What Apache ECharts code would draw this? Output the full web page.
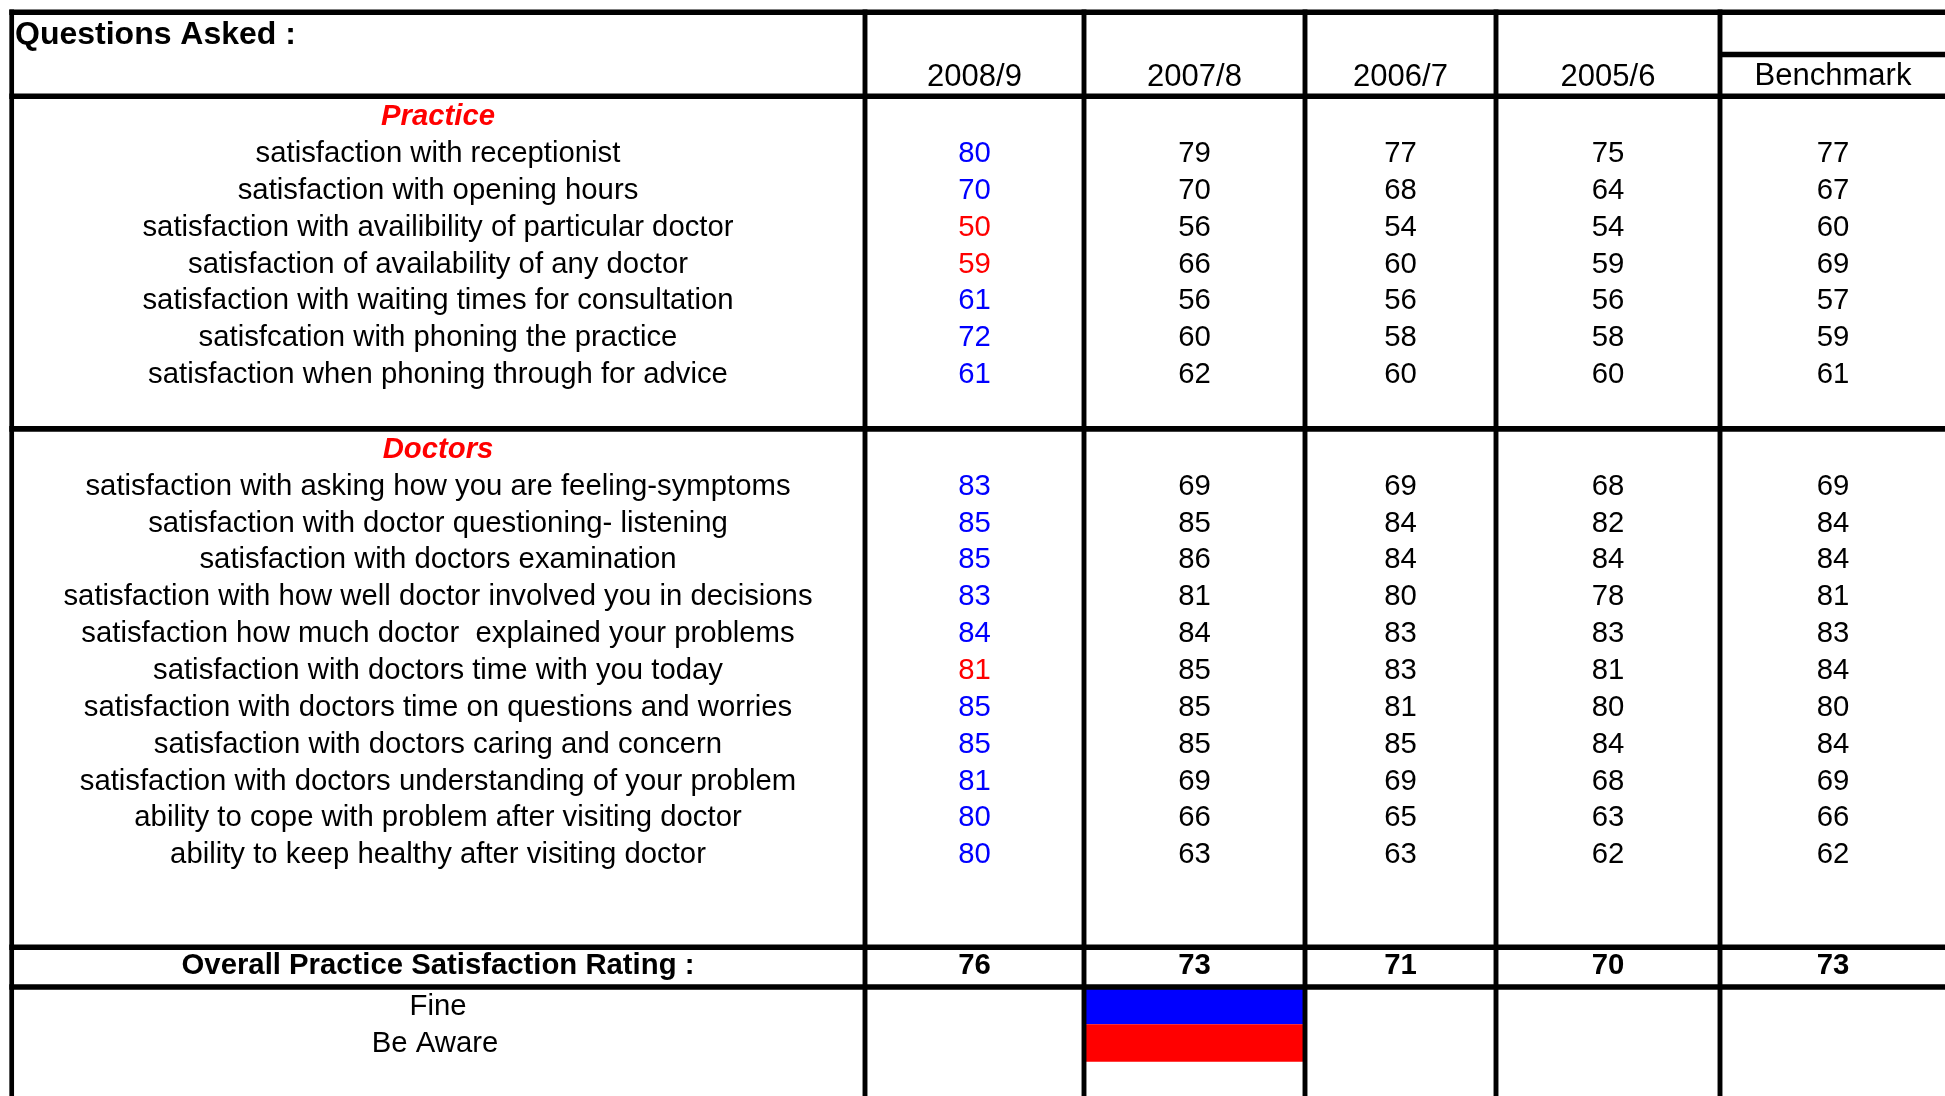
<!DOCTYPE html>
<html><head><meta charset="utf-8">
<script src="https://cdn.jsdelivr.net/npm/echarts@6/dist/echarts.min.js"></script>
<style>html,body{margin:0;padding:0;background:#fff;overflow:hidden}#c{width:1945px;height:1096px}</style>
</head><body><div id="c"></div>
<script>
// ---------- data ----------
const tableTitle = 'Questions Asked :';
const periods = ['2008/9', '2007/8', '2006/7', '2005/6', 'Benchmark'];
const practiceTitle = 'Practice';
const practiceQuestions = [
  'satisfaction with receptionist',
  'satisfaction with opening hours',
  'satisfaction with availibility of particular doctor',
  'satisfaction of availability of any doctor',
  'satisfaction with waiting times for consultation',
  'satisfcation with phoning the practice',
  'satisfaction when phoning through for advice'
];
const practice2008 = [80, 70, 50, 59, 61, 72, 61];
const practice2007 = [79, 70, 56, 66, 56, 60, 62];
const practice2006 = [77, 68, 54, 60, 56, 58, 60];
const practice2005 = [75, 64, 54, 59, 56, 58, 60];
const practiceBenchmark = [77, 67, 60, 69, 57, 59, 61];

const doctorsTitle = 'Doctors';
const doctorQuestions = [
  'satisfaction with asking how you are feeling-symptoms',
  'satisfaction with doctor questioning- listening',
  'satisfaction with doctors examination',
  'satisfaction with how well doctor involved you in decisions',
  'satisfaction how much doctor  explained your problems',
  'satisfaction with doctors time with you today',
  'satisfaction with doctors time on questions and worries',
  'satisfaction with doctors caring and concern',
  'satisfaction with doctors understanding of your problem',
  'ability to cope with problem after visiting doctor',
  'ability to keep healthy after visiting doctor'
];
const doctors2008 = [83, 85, 85, 83, 84, 81, 85, 85, 81, 80, 80];
const doctors2007 = [69, 85, 86, 81, 84, 85, 85, 85, 69, 66, 63];
const doctors2006 = [69, 84, 84, 80, 83, 83, 81, 85, 69, 65, 63];
const doctors2005 = [68, 82, 84, 78, 83, 81, 80, 84, 68, 63, 62];
const doctorsBenchmark = [69, 84, 84, 81, 83, 84, 80, 84, 69, 66, 62];

const overallLabel = 'Overall Practice Satisfaction Rating :';
const overallValues = [76, 73, 71, 70, 73];

const legendLabels = ['Fine', 'Be Aware'];

// ---------- layout / style ----------
const W = 1945, H = 1096;
const ROW0 = 152.6, PITCH = 36.85;           // row index -> pixel mapping of the y axis
const TEXT_DY = 1.3;                          // visual baseline correction for text
const yMin = -ROW0 / PITCH, yMax = (H - ROW0) / PITCH;
const px2row = p => (p - ROW0) / PITCH;
const colEdges = [11.7, 865, 1084, 1305, 1496, 1720, 1946];
const colCenters = [438, 974.5, 1194.5, 1400.5, 1608, 1833];
const FAMILY = '"Liberation Sans", Arial, Helvetica, sans-serif';
const BLUE = '#0000FF', RED = '#FF0000', BLACK = '#000000';
const FS = 29.3;

// ---------- build text cells ----------
const cells = [];
function cell(col, row, text, opt) {
  opt = opt || {};
  cells.push({
    value: [colCenters[col], row],
    text: String(text),
    color: opt.color || BLACK,
    weight: opt.weight || 'normal',
    fstyle: opt.fstyle || 'normal',
    size: opt.size || FS,
    align: opt.align || 'center',
    dx: opt.dx || 0,
    dy: opt.dy != null ? opt.dy : TEXT_DY
  });
}
// header
cells.push({ value: [15, px2row(31.5)], text: tableTitle, color: BLACK, weight: 'bold', fstyle: 'normal', size: 32, align: 'left', dx: 0, dy: 3.6 });
periods.forEach((p, i) => {
  cell(i + 1, px2row(i === 4 ? 75.5 : 76), p, { size: 31 });
});
// practice section
cell(0, -1, practiceTitle, { color: RED, weight: 'bold', fstyle: 'italic' });
const practiceCols = [practice2008, practice2007, practice2006, practice2005, practiceBenchmark];
practiceQuestions.forEach((q, r) => {
  cell(0, r, q);
  practiceCols.forEach((arr, c) => {
    const color = c === 0 ? (arr[r] < practiceBenchmark[r] ? RED : BLUE) : BLACK;
    cell(c + 1, r, arr[r], { color });
  });
});
// doctors section
const DOC0 = 8.03;
cell(0, DOC0, doctorsTitle, { color: RED, weight: 'bold', fstyle: 'italic' });
const doctorCols = [doctors2008, doctors2007, doctors2006, doctors2005, doctorsBenchmark];
doctorQuestions.forEach((q, r) => {
  const row = DOC0 + 1 + r;
  cell(0, row, q);
  doctorCols.forEach((arr, c) => {
    const color = c === 0 ? (arr[r] < doctorsBenchmark[r] ? RED : BLUE) : BLACK;
    cell(c + 1, row, arr[r], { color });
  });
});
// overall row
const overallRow = px2row(965);
cell(0, overallRow, overallLabel, { weight: 'bold' });
overallValues.forEach((v, c) => cell(c + 1, overallRow, v, { weight: 'bold' }));
// legend labels
cell(0, px2row(1006), legendLabels[0]);
cell(0, px2row(1043), legendLabels[1], { dx: -3 });

// ---------- grid lines (layout) ----------
const lines = [];
const HT = 5.6, VT = 4.9;
[[12.25, 9.3, W], [96.2, 9.3, W], [54.5, 1720, W], [428.9, 9.3, W], [947.2, 9.3, W], [987, 9.3, W]]
  .forEach(l => lines.push({ value: [l[1], px2row(l[0]), l[2], px2row(l[0])], t: HT, dir: 'h' }));
colEdges.slice(0, 6).forEach((x, i) => {
  lines.push({ value: [x, px2row(9.5), x, yMax], t: i === 0 ? 4.7 : VT, dir: 'v' });
});

// legend swatches in 2007/8 column
const swatches = [
  { value: [colEdges[2], px2row(987), colEdges[3], px2row(1024.3)], color: BLUE },
  { value: [colEdges[2], px2row(1024.3), colEdges[3], px2row(1061.7)], color: RED }
];

const chart = echarts.init(document.getElementById('c'), null, { renderer: 'canvas' });
chart.setOption({
  backgroundColor: '#ffffff',
  animation: false,
  grid: { left: 0, right: 0, top: 0, bottom: 0 },
  xAxis: { type: 'value', min: 0, max: W, show: false },
  yAxis: { type: 'value', min: yMin, max: yMax, inverse: true, show: false },
  series: [
    {
      type: 'custom', z: 1, silent: true,
      data: swatches,
      renderItem: (params, api) => {
        const d = swatches[params.dataIndex];
        const a = api.coord([d.value[0], d.value[1]]);
        const b = api.coord([d.value[2], d.value[3]]);
        return { type: 'rect', shape: { x: a[0], y: a[1], width: b[0] - a[0], height: b[1] - a[1] }, style: { fill: d.color } };
      }
    },
    {
      type: 'custom', z: 2, silent: true,
      data: lines,
      renderItem: (params, api) => {
        const d = lines[params.dataIndex];
        const a = api.coord([d.value[0], d.value[1]]);
        const b = api.coord([d.value[2], d.value[3]]);
        const shape = d.dir === 'h'
          ? { x: a[0], y: a[1] - d.t / 2, width: b[0] - a[0], height: d.t }
          : { x: a[0] - d.t / 2, y: a[1], width: d.t, height: b[1] - a[1] };
        return { type: 'rect', shape, style: { fill: BLACK } };
      }
    },
    {
      type: 'custom', z: 3, silent: true,
      data: cells,
      renderItem: (params, api) => {
        const d = cells[params.dataIndex];
        const p = api.coord(d.value);
        return {
          type: 'text',
          x: p[0] + d.dx, y: p[1] + d.dy,
          style: {
            text: d.text, x: 0, y: 0,
            fill: d.color,
            fontSize: d.size, fontFamily: FAMILY, fontWeight: d.weight, fontStyle: d.fstyle,
            align: d.align, verticalAlign: 'middle',
            textAlign: d.align, textVerticalAlign: 'middle'
          }
        };
      }
    }
  ]
});
</script></body></html>
